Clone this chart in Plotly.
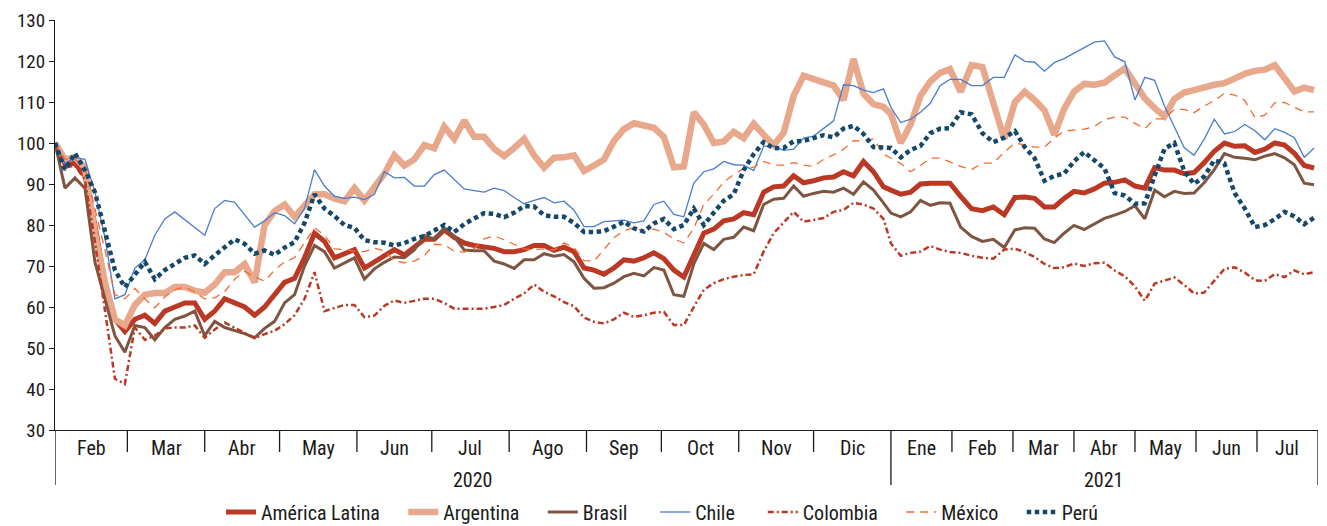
import calendar
import pandas as pd
import plotly.graph_objects as go

# ---------------- data ----------------
dates_2020 = pd.date_range("2020-02-01", periods=84, freq="4D")
dates_2021 = pd.date_range("2021-01-01", periods=43, freq="5D")

america_latina_2020 = [100, 95, 95, 92, 80, 66, 57, 54, 57, 58,
                       56, 59, 60, 61, 61, 57, 59, 62, 61, 60,
                       58, 60, 63, 66, 67, 72, 78, 76, 72, 73,
                       74, 69.5, 71, 72.5, 74, 72.7, 74.6, 76.5, 76.5, 78.8,
                       77, 75.6, 75, 74.6, 74.3, 73.5, 73.5, 74, 75, 75,
                       73.8, 74.6, 73.5, 69.5, 69, 68, 69.5, 71.5, 71.2, 72,
                       73.2, 71.8, 69, 67.3, 73, 78, 79, 81, 81.5, 83,
                       82.5, 88, 89.3, 89.5, 92, 90.3, 90.8, 91.5, 91.7, 93,
                       92, 95.5, 93, 89.3]
america_latina_2021 = [88.5, 87.5, 88, 90, 90.2, 90.2, 90.2, 87, 84, 83.5,
                       84.4, 82.5, 86.7, 86.8, 86.5, 84.4, 84.4, 86.5, 88.2, 87.8,
                       88.8, 90.2, 90.4, 91, 89.5, 89, 94, 93.4, 93.4, 92.5,
                       92.8, 95.2, 98, 100, 99.2, 99.3, 97.7, 98.5, 100, 99.5,
                       97.5, 94.5, 93.9]

argentina_2020 = [100, 96, 96.5, 94, 78, 66, 57, 55.5, 60.5, 63,
                  63.4, 63.4, 64.9, 64.9, 64, 63.5, 65.5, 68.5, 68.5, 70.5,
                  66, 80, 83.4, 85, 82, 85, 87.5, 87.5, 86.4, 85.8,
                  89, 86, 89.5, 92.5, 97, 94.5, 96, 99.5, 98.7, 104,
                  101, 105.5, 101.5, 101.5, 98.6, 96.8, 98.8, 101, 97, 94,
                  96.4, 96.5, 97, 93.2, 94.5, 96, 100.5, 103.4, 104.8, 104.2,
                  103.7, 101.5, 94.1, 94.3, 107.5, 104.5, 100, 100.4, 102.7, 101.2,
                  104.7, 102, 99.5, 102.5, 111.5, 116.4, 115.6, 115, 114, 110.5,
                  120.5, 112, 109.5, 108.8]
argentina_2021 = [107, 100, 104.5, 111.5, 115, 117.1, 118, 112.5, 119, 118.5,
                  110, 101, 110, 112.5, 110.5, 108, 102, 108.3, 112.5, 114.4,
                  114.2, 114.7, 116.5, 118.2, 114.5, 110.9, 108.5, 106.5, 110.7, 112.3,
                  112.9, 113.7, 114.2, 114.6, 115.9, 116.9, 117.6, 117.9, 119, 115.7,
                  112.6, 113.5, 112.9]

brasil_2020 = [100, 89, 91.5, 89, 71, 62, 53, 49, 55.5, 55,
               52, 55, 57, 57.8, 59, 53, 56.5, 55, 54.2, 53.5,
               52.5, 54.8, 56.5, 61, 63, 70, 75, 73.5, 69.5, 70.8,
               72, 66.8, 69.3, 70.9, 72.2, 72, 73.9, 77.5, 76.5, 79.3,
               77.2, 73.9, 73.7, 73.7, 71.2, 70.5, 69.4, 71.5, 71.5, 73,
               72.4, 72.8, 71, 67, 64.6, 64.7, 65.8, 67.4, 68.2, 67.6,
               69.6, 69, 63, 62.6, 70.5, 75.5, 74, 76.5, 77, 79.5,
               78.6, 85, 86.3, 86.5, 89.5, 87, 87.7, 88.2, 88, 89,
               87.5, 90.5, 88.5, 85.4]
brasil_2021 = [82.9, 82, 83.2, 86, 84.8, 85.4, 85.3, 79.5, 77.2, 76,
               76.5, 74.5, 78.8, 79.3, 79.2, 76.6, 75.7, 78, 79.9, 78.9,
               80.3, 81.6, 82.4, 83.3, 84.7, 81.5, 88.5, 86.9, 88.2, 87.7,
               87.8, 90.3, 93.5, 97.4, 96.5, 96.3, 95.9, 96.8, 97.4, 96.4,
               94.7, 90.2, 89.8]

chile_2020 = [100, 95, 96.5, 96, 88, 77, 62, 63, 69.5, 71.5,
              77.5, 81.5, 83.2, 81.3, 79.5, 77.5, 84, 86, 85.5, 82.5,
              79.5, 81, 83, 82.3, 80.3, 84, 93.5, 89.5, 87, 86.5,
              86.8, 86.2, 87.5, 93, 91.5, 91.6, 89.5, 89.5, 92.3, 93.4,
              91, 88.8, 88.4, 88, 89, 88.4, 86.7, 85.2, 86, 86.7,
              85.4, 85.8, 83.6, 79.6, 79.6, 80.8, 81, 81.2, 80.5, 81,
              85, 85.8, 82.6, 82, 90.2, 93, 93.7, 95.5, 94.7, 94.6,
              93.3, 99.2, 99.3, 98.2, 98.5, 101.2, 101.7, 103.6, 105.4, 114.2,
              114, 112.9, 112.3, 113.2]
chile_2021 = [108.7, 105, 105.8, 107.5, 109.7, 114, 115.5, 115.5, 114, 114,
              116, 116, 121.5, 119.9, 119.7, 117.5, 119.6, 120.6, 121.9, 123.4,
              124.6, 124.9, 121, 119.8, 110.5, 116, 115.3, 109, 104, 98.9,
              97, 100.9, 105.8, 102.2, 102.8, 104.5, 103, 100.8, 103.5, 102.6,
              101.3, 96.5, 98.8]

colombia_2020 = [100, 94, 94.5, 91, 76, 59, 42.5, 41.2, 55, 52,
                 53, 54.8, 55, 55, 55.5, 52.5, 54.5, 56.2, 55, 53.8,
                 52.4, 53.4, 54.2, 55.8, 58, 62, 68.5, 59, 59.8, 60.5,
                 60.5, 57.5, 57.9, 60.3, 61.6, 61, 61.5, 62, 62, 61,
                 59.6, 59.6, 59.5, 59.6, 60, 60.5, 62, 63.3, 65.5, 63.7,
                 62.6, 61.2, 60.2, 57.4, 56.4, 56, 57, 58.6, 57.6, 58,
                 58.6, 58.8, 55.6, 55.6, 60, 64.2, 65.8, 66.8, 67.4, 67.8,
                 68, 73.5, 78, 80.6, 83.2, 80.8, 81.3, 81.7, 83.2, 83.7,
                 85.4, 85, 84, 81.5]
colombia_2021 = [75.5, 72.5, 73.2, 73.5, 74.9, 74, 73.4, 73.2, 72.5, 72,
                 71.8, 74, 74.2, 73.4, 72.2, 70.5, 69.5, 69.7, 70.6, 70,
                 70.7, 70.8, 68.9, 67.5, 65, 61.5, 65.7, 66.5, 67.2, 65.4,
                 63.3, 63.5, 66.3, 69.3, 69.7, 68.4, 66.5, 66.4, 68, 67.3,
                 68.9, 68, 68.5]

mexico_2020 = [100, 96, 96, 94, 84, 74, 63, 62, 64.5, 62,
               59.8, 62.5, 64.2, 64.9, 63.7, 62, 62.2, 63.8, 66.8, 68.7,
               67.3, 66.3, 69, 71, 72, 75.6, 79.3, 77.5, 74.2, 74,
               73.6, 73.5, 74.3, 73.7, 71.3, 70.8, 71.2, 72.5, 75.3, 75.2,
               73.6, 73.4, 74.3, 76.6, 77.3, 76.4, 75.2, 74.2, 74, 74.2,
               73.9, 75.6, 74.5, 71.3, 71.2, 74, 76.9, 78.6, 79.4, 78.4,
               79, 78.2, 76.6, 75.6, 79.2, 85, 87.5, 90.5, 92.3, 93.8,
               94.1, 95.5, 94.6, 94.6, 95.2, 94.6, 94.3, 96, 97.1, 98.5,
               100.6, 100.5, 101, 97.3]
mexico_2021 = [96.3, 95, 93, 94.5, 96.3, 96.3, 95.4, 94.3, 93.5, 95.1,
               95.1, 97.8, 100, 99.5, 99, 99, 101.2, 102.9, 103.2, 103.4,
               104, 105.7, 106.3, 106.3, 104.8, 103.5, 105.9, 105.9, 108.2, 108.2,
               107.4, 109, 110.3, 112.1, 111.7, 110.4, 106.2, 106.8, 109.8, 109.9,
               108.7, 107.6, 107.6]

peru_2020 = [100, 93.5, 97.5, 93.4, 88, 78, 69, 64.8, 68, 71,
             66.8, 69, 70.5, 72, 72.6, 70.5, 72.6, 74.5, 76.5, 75.4,
             73, 73.8, 72.7, 74.5, 75.8, 80.5, 87.5, 84, 82.2, 80,
             79.3, 76.3, 75.8, 75.7, 75, 75.6, 76.6, 77.3, 78.5, 80,
             78.3, 80.2, 81.6, 82.9, 82.7, 81.9, 83, 84.6, 84.5, 82.4,
             82, 82, 80.5, 78.3, 78.3, 78.5, 79.6, 80.8, 79.2, 78.4,
             80.4, 81.5, 79, 80, 84, 80, 83, 85.9, 87.5, 93.4,
             97.3, 100.2, 98.7, 98.8, 100.4, 100.5, 101.2, 101.9, 101.4, 103.5,
             104.2, 102.2, 99, 99]
peru_2021 = [98.8, 96.5, 98.3, 99.3, 102.4, 103.5, 103.6, 107.5, 107, 102.4,
             100.2, 101.3, 102.9, 99, 96.3, 90.8, 92, 92.5, 95.5, 97.8,
             95.9, 93.8, 87.8, 87.2, 85.2, 85.3, 92, 98.6, 100, 93.2,
             90, 91.8, 95.8, 95, 87.8, 84, 79.5, 80, 81.4, 83.2,
             82.1, 80.2, 81.8]

series_names = ["América Latina", "Argentina", "Brasil", "Chile",
                "Colombia", "México", "Perú"]
series_values = [america_latina_2020 + america_latina_2021,
                 argentina_2020 + argentina_2021,
                 brasil_2020 + brasil_2021,
                 chile_2020 + chile_2021,
                 colombia_2020 + colombia_2021,
                 mexico_2020 + mexico_2021,
                 peru_2020 + peru_2021]

month_labels = ["Feb", "Mar", "Abr", "May", "Jun", "Jul", "Ago", "Sep", "Oct",
                "Nov", "Dic", "Ene", "Feb", "Mar", "Abr", "May", "Jun", "Jul"]
year_labels = ["2020", "2021"]

dates = list(dates_2020) + list(dates_2021)
for v in series_values:
    assert len(v) == len(dates)

# ---------------- axis mapping (2021 months drawn narrower, as in the source) ----
months = [(2020, m) for m in range(2, 13)] + [(2021, m) for m in range(1, 8)]


def month_width(y, m):
    return calendar.monthrange(y, m)[1] if y == 2020 else 24.45


month_start = {}
acc = 0.0
for ym in months:
    month_start[ym] = acc
    acc += month_width(*ym)
X_END = acc


def pos(d):
    nd = calendar.monthrange(d.year, d.month)[1]
    return month_start[(d.year, d.month)] + (d.day - 1) / nd * month_width(d.year, d.month)


xs = [pos(d) for d in dates]

# ---------------- styles ----------------
FONT = "Roboto Condensed, Liberation Sans Narrow, Arial Narrow, sans-serif"
FS = 20
INK = "#1a1a1a"
RED = "#BA3824"
styles = [
    dict(color=RED, width=5),
    dict(color="#E8A88C", width=6.5),
    dict(color="#7D5541", width=3),
    dict(color="#4A7CCB", width=1.3),
    dict(color=RED, width=2.5, dash="6px,3px,2px,3px"),
    dict(color="#F26B2E", width=1.3, dash="8px,6px"),
    dict(color="#15486B", width=4.5, dash="4.5px,3.5px"),
]
legend_pad = [4, 4, 5, 5, 4, 4, 0]  # trailing non-breaking spaces between legend entries

NB = "\u00a0"
fig = go.Figure()
for name, vals, st, pad in zip(series_names, series_values, styles, legend_pad):
    fig.add_trace(go.Scatter(x=xs, y=vals, mode="lines", name=name + NB * pad,
                             line=st, hoverinfo="skip"))

# ---------------- x-axis decorations ----------------
H = 410.0  # plot height px
shapes = []
annotations = []
year_boundaries = [0.0, month_start[(2021, 1)], X_END]
bounds = [month_start[ym] for ym in months] + [X_END]
for b in bounds:
    long_ = any(abs(b - yb) < 1e-6 for yb in year_boundaries)
    shapes.append(dict(type="line", xref="x", yref="paper", x0=b, x1=b,
                       y0=0, y1=-(55 if long_ else 22) / H,
                       line=dict(color=INK, width=1.3)))
for i, ym in enumerate(months):
    c = month_start[ym] + month_width(*ym) / 2
    annotations.append(dict(x=c, y=-18 / H, xref="x", yref="paper",
                            text=month_labels[i], showarrow=False,
                            yanchor="middle", font=dict(size=FS, family=FONT, color=INK)))
for lab, (a, b) in zip(year_labels, [(0.0, month_start[(2021, 1)]),
                                     (month_start[(2021, 1)], X_END)]):
    annotations.append(dict(x=(a + b) / 2, y=-50 / H, xref="x", yref="paper",
                            text=lab, showarrow=False, yanchor="middle",
                            font=dict(size=FS, family=FONT, color=INK)))

fig.update_layout(
    width=1327, height=526,
    margin=dict(l=55, r=9, t=20, b=96, autoexpand=False),
    paper_bgcolor="white", plot_bgcolor="white",
    font=dict(family=FONT, size=FS, color=INK),
    showlegend=True,
    legend=dict(orientation="h", x=(221 - 55) / 1263, xanchor="left",
                y=-82 / H, yanchor="middle", font=dict(size=FS, family=FONT, color=INK),
                bgcolor="rgba(0,0,0,0)", itemwidth=30, tracegroupgap=0),
    shapes=shapes, annotations=annotations,
    xaxis=dict(range=[0, X_END], showgrid=False, zeroline=False,
               showline=True, linecolor=INK, linewidth=1.3,
               showticklabels=False, ticks=""),
    yaxis=dict(range=[30, 130], dtick=10, showgrid=False, zeroline=False,
               showline=True, linecolor=INK, linewidth=1.3,
               ticks="outside", ticklen=5, tickcolor=INK, tickwidth=1.3,
               tickfont=dict(size=19, family=FONT, color=INK)),
)

fig.write_html("out.html", config={"displayModeBar": False},
               post_script="document.body.style.margin='0px';")
